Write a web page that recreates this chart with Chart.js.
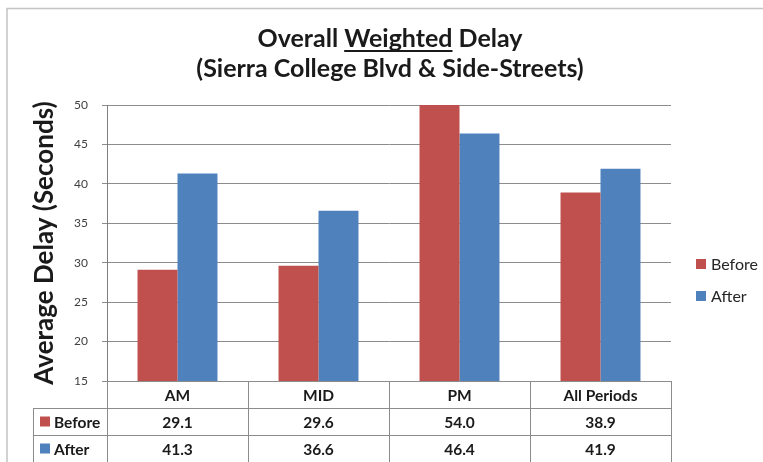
<!DOCTYPE html>
<html>
<head>
<meta charset="utf-8">
<script src="https://cdn.jsdelivr.net/npm/chart.js@4"></script>
<style>
    html, body { margin: 0; padding: 0; background: #fff; }
</style>
</head>
<body>
<canvas id="delayChart" width="763" height="462"></canvas>
<script>
// ==========
// Chart data
// ==========
const periods = ['AM', 'MID', 'PM', 'All Periods'];
const beforeDelay = [29.1, 29.6, 54.0, 38.9];
const afterDelay = [41.3, 36.6, 46.4, 41.9];
const seriesNames = ['Before', 'After'];
const seriesColors = ['#C0504D', '#4F81BD'];
const titleLines = ['Overall Weighted Delay', '(Sierra College Blvd & Side-Streets)'];
const underlinedWord = 'Weighted';
const yTitle = 'Average Delay (Seconds)';
const yMin = 15;
const yMax = 50;
const yStep = 5;

const FONT = 'Lato, "Liberation Sans", sans-serif';
const LINE_GRAY = '#8c8c8c';

// Title with one underlined word
const titlePlugin = {
    id: 'excelTitle',
    afterDraw(chart) {
        const ctx = chart.ctx;
        const cx = 390;
        const baselines = [47, 77];
        ctx.save();
        ctx.fillStyle = '#1a1a1a';
        ctx.font = 'bold 25px ' + FONT;
        ctx.textBaseline = 'alphabetic';
        ctx.textAlign = 'left';
        titleLines.forEach((line, i) => {
            const w = ctx.measureText(line).width;
            const x0 = cx - w / 2;
            ctx.fillText(line, x0, baselines[i]);
            const idx = line.indexOf(underlinedWord);
            if (idx >= 0) {
                const ux = x0 + ctx.measureText(line.slice(0, idx)).width;
                const uw = ctx.measureText(underlinedWord).width;
                ctx.fillRect(ux, baselines[i] + 3, uw, 2);
            }
        });
        ctx.restore();
    }
};

// Frame, side legend and data table
const tablePlugin = {
    id: 'dataTable',
    afterDraw(chart) {
        const ctx = chart.ctx;
        const xs = chart.scales.x;
        const area = chart.chartArea;
        const rowH = 27;
        const tableLeft = 33;
        const rows = [area.bottom, area.bottom + rowH, area.bottom + rowH * 2, area.bottom + rowH * 3];
        const half = (xs.getPixelForValue(1) - xs.getPixelForValue(0)) / 2;

        ctx.save();
        // outer frame
        ctx.strokeStyle = '#c4c4c4';
        ctx.lineWidth = 1.5;
        ctx.strokeRect(7, 8.5, 800, 500);

        // table lines
        ctx.strokeStyle = LINE_GRAY;
        ctx.lineWidth = 1;
        ctx.beginPath();
        ctx.moveTo(area.left, rows[0] + 0.5);
        ctx.lineTo(area.right, rows[0] + 0.5);
        for (let r = 1; r < rows.length; r++) {
            ctx.moveTo(tableLeft, Math.round(rows[r]) + 0.5);
            ctx.lineTo(area.right, Math.round(rows[r]) + 0.5);
        }
        ctx.moveTo(tableLeft + 0.5, rows[1]);
        ctx.lineTo(tableLeft + 0.5, rows[3]);
        for (let i = 0; i <= periods.length; i++) {
            const x = Math.round(xs.getPixelForValue(i) - half) + 0.5;
            ctx.moveTo(x, rows[0]);
            ctx.lineTo(x, rows[3]);
        }
        ctx.stroke();

        // header labels and values
        ctx.fillStyle = '#1a1a1a';
        ctx.font = 'bold 15.5px ' + FONT;
        ctx.textAlign = 'center';
        ctx.textBaseline = 'middle';
        const values = [beforeDelay, afterDelay];
        periods.forEach((p, i) => {
            const x = xs.getPixelForValue(i);
            ctx.fillText(p, x, rows[0] + rowH / 2 + 1);
            values.forEach((arr, s) => {
                ctx.fillText(arr[i].toFixed(1), x, rows[s + 1] + rowH / 2 + 1);
            });
        });

        // series keys in the table
        ctx.textAlign = 'left';
        seriesNames.forEach((name, s) => {
            const cy = rows[s + 1] + rowH / 2;
            ctx.fillStyle = seriesColors[s];
            ctx.fillRect(40, cy - 5, 10, 10);
            ctx.fillStyle = '#1a1a1a';
            ctx.fillText(name, 54, cy + 1);
        });

        // side legend
        ctx.font = '16px ' + FONT;
        const legendY = [264, 296];
        seriesNames.forEach((name, s) => {
            ctx.fillStyle = seriesColors[s];
            ctx.fillRect(696, legendY[s] - 5, 10, 10);
            ctx.fillStyle = '#262626';
            ctx.fillText(name, 711, legendY[s] + 1);
        });
        ctx.restore();
    }
};

const ctx = document.getElementById('delayChart').getContext('2d');
new Chart(ctx, {
    type: 'bar',
    data: {
        labels: periods,
        datasets: [
            {
                label: seriesNames[0],
                data: beforeDelay,
                backgroundColor: seriesColors[0],
                categoryPercentage: 0.567,
                barPercentage: 1.0,
                clip: 0
            },
            {
                label: seriesNames[1],
                data: afterDelay,
                backgroundColor: seriesColors[1],
                categoryPercentage: 0.567,
                barPercentage: 1.0,
                clip: 0
            }
        ]
    },
    options: {
        responsive: false,
        animation: false,
        devicePixelRatio: 1,
        layout: {
            padding: { left: 0, top: 105, right: 92, bottom: 81 }
        },
        plugins: {
            legend: { display: false },
            title: { display: false },
            tooltip: { enabled: false }
        },
        scales: {
            x: {
                display: false
            },
            y: {
                min: yMin,
                max: yMax,
                afterFit(scale) { scale.width = 107; },
                ticks: {
                    stepSize: yStep,
                    color: '#404040',
                    padding: 14,
                    font: { family: FONT, size: 12 }
                },
                grid: {
                    color: LINE_GRAY,
                    tickLength: 5
                },
                border: { color: '#7f7f7f' },
                title: {
                    display: true,
                    text: yTitle,
                    color: '#1a1a1a',
                    font: { family: FONT, size: 26, weight: 'bold' },
                    padding: { top: 29, bottom: 0 }
                }
            }
        }
    },
    plugins: [titlePlugin, tablePlugin]
});
</script>
</body>
</html>
